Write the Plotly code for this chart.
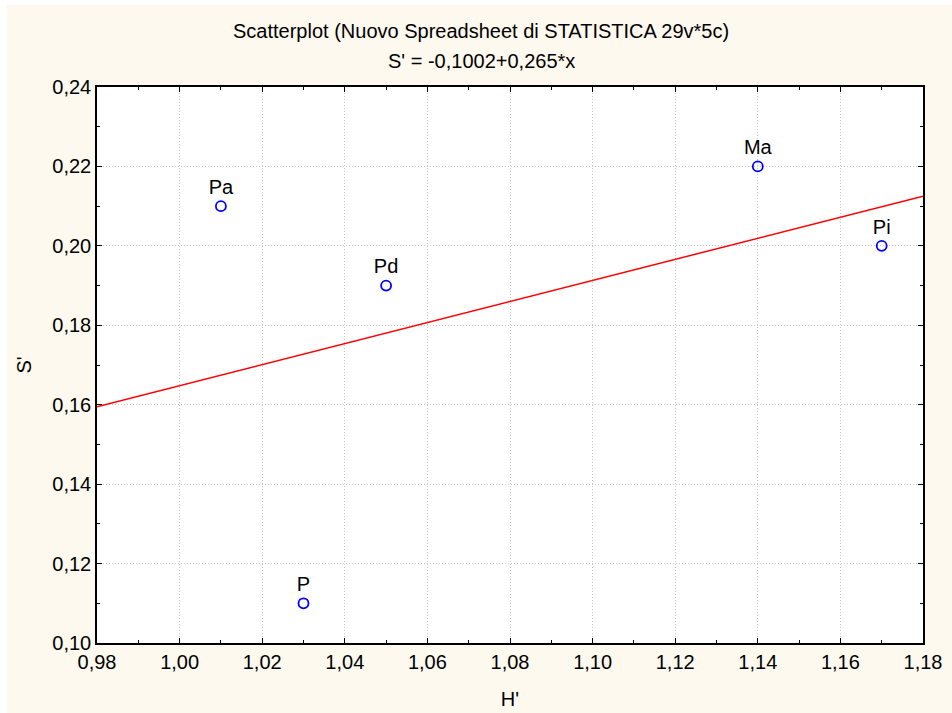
import plotly.graph_objects as go

labels = ["Pa", "P", "Pd", "Ma", "Pi"]
h_vals = [1.01, 1.03, 1.05, 1.14, 1.17]
s_vals = [0.21, 0.11, 0.19, 0.22, 0.20]
intercept = -0.1002
slope = 0.265
x_range = [0.98, 1.18]
y_range = [0.10, 0.24]

FONT = "Liberation Sans, Arial, sans-serif"
CREAM = "#FDF9EF"
FS = 20

fig = go.Figure()
fig.add_trace(go.Scatter(
    x=x_range, y=[intercept + slope * v for v in x_range],
    mode="lines", line=dict(color="#FF0000", width=1.5), hoverinfo="skip", showlegend=False))
fig.add_trace(go.Scatter(
    x=h_vals, y=s_vals, mode="markers+text", text=labels, textposition="top center",
    textfont=dict(family=FONT, size=FS, color="black"),
    marker=dict(symbol="circle-open", size=10, color="#0000FF", line=dict(width=1.8, color="#0000FF")),
    showlegend=False))

axis_common = dict(
    showline=True, linecolor="black", linewidth=1.5, mirror="ticks",
    ticks="inside", ticklen=5, tickcolor="black", tickwidth=1.2,
    showgrid=True, gridcolor="#C8C8C8", griddash="1px,2px", gridwidth=1,
    zeroline=False, tickfont=dict(family=FONT, size=FS, color="black"), automargin=False,
)

fig.update_xaxes(range=x_range, dtick=0.02, tickformat=".2f",
                 minor=dict(ticks="inside", ticklen=3, dtick=0.01, tickcolor="black", showgrid=False),
                 title=dict(text="H'", font=dict(family=FONT, size=FS, color="black"), standoff=20),
                 **axis_common)
fig.update_yaxes(range=y_range, dtick=0.02, tickformat=".2f",
                 minor=dict(ticks="inside", ticklen=3, dtick=0.01, tickcolor="black", showgrid=False),
                 title=dict(text="S'", font=dict(family=FONT, size=FS, color="black"), standoff=15),
                 **axis_common)

fig.update_layout(
    width=952, height=713,
    margin=dict(l=97, r=29, t=87, b=70),
    paper_bgcolor=CREAM, plot_bgcolor="white",
    separators=", ",
    font=dict(family=FONT, size=FS, color="black"),
    showlegend=False,
    shapes=[
        dict(type="rect", xref="paper", yref="paper", x0=-0.2, x1=1.1, y0=(643 - 5) / 556, y1=1.3,
             fillcolor="white", line=dict(width=0), layer="below"),
        dict(type="rect", xref="paper", yref="paper", x0=-0.2, x1=(7 - 97) / 826, y0=-0.2, y1=1.3,
             fillcolor="white", line=dict(width=0), layer="below"),
    ],
    annotations=[
        dict(text="Scatterplot (Nuovo Spreadsheet di STATISTICA 29v*5c)", xref="paper", yref="paper",
             x=(481 - 97) / 826, y=(643 - 31) / 556, showarrow=False, font=dict(family=FONT, size=FS),
             yanchor="middle"),
        dict(text="S' = -0,1002+0,265*x", xref="paper", yref="paper",
             x=(481 - 97) / 826, y=(643 - 61) / 556, showarrow=False, font=dict(family=FONT, size=FS),
             yanchor="middle"),
    ],
)

fig.write_html("out.html")
